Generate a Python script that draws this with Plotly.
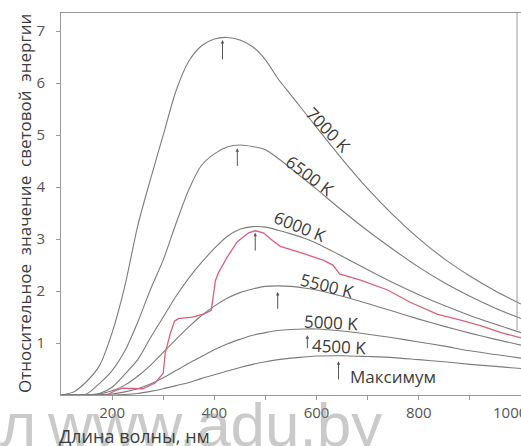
import plotly.graph_objects as go

# ---------------- data ----------------
wavelength_nm = [100, 125, 150, 175, 200, 225, 250, 275, 300, 325, 350, 375, 400, 425, 450, 475, 500, 525, 550, 575, 600,
                 650, 700, 750, 800, 850, 900, 950, 1000]

energy_7000 = [0, 0.06, 0.26, 0.56, 1.20, 2.10, 3.25, 4.15, 5.00, 5.85, 6.42, 6.72, 6.85, 6.88, 6.83, 6.70, 6.45, 6.08, 5.77, 5.46, 5.15,
               4.54, 3.97, 3.46, 3.01, 2.62, 2.29, 2.00, 1.75]
energy_6500 = [0, 0, 0.02, 0.22, 0.47, 0.85, 1.40, 2.03, 2.60, 3.30, 3.95, 4.42, 4.64, 4.77, 4.81, 4.78, 4.72, 4.55, 4.36, 4.16, 3.96,
               3.55, 3.16, 2.80, 2.46, 2.16, 1.90, 1.67, 1.47]
energy_6000 = [0, 0, 0, 0.03, 0.15, 0.40, 0.68, 1.10, 1.50, 1.90, 2.25, 2.55, 2.82, 3.05, 3.19, 3.24, 3.23, 3.17, 3.10, 3.02, 2.92,
               2.67, 2.41, 2.16, 1.93, 1.72, 1.53, 1.36, 1.20]
energy_5500 = [0, 0, 0, 0.02, 0.08, 0.19, 0.36, 0.57, 0.82, 1.07, 1.31, 1.53, 1.71, 1.86, 1.97, 2.04, 2.09, 2.10, 2.09, 2.06, 2.02,
               1.90, 1.76, 1.61, 1.46, 1.32, 1.19, 1.07, 0.96]
energy_5000 = [0, 0, 0, 0.01, 0.02, 0.06, 0.12, 0.21, 0.33, 0.47, 0.61, 0.74, 0.87, 0.98, 1.07, 1.15, 1.20, 1.24, 1.26, 1.27, 1.27,
               1.23, 1.17, 1.10, 1.02, 0.94, 0.85, 0.78, 0.71]
energy_4500 = [0, 0, 0, 0, 0, 0.01, 0.03, 0.07, 0.12, 0.18, 0.24, 0.32, 0.39, 0.46, 0.53, 0.59, 0.64, 0.68, 0.71, 0.73, 0.75,
               0.755, 0.74, 0.72, 0.68, 0.64, 0.59, 0.55, 0.51]

temperature_labels = ["7000 K", "6500 K", "6000 K", "5500 K", "5000 K", "4500 K"]

sun_nm = [190, 205, 220, 240, 260, 284, 300, 304, 314, 322, 330, 357, 380, 394, 402, 408, 425, 445, 467,
          480, 496, 510, 529, 569, 614, 632, 645, 686, 739, 784, 837, 882, 922, 961, 1000]
sun_energy = [0, 0.08, 0.13, 0.12, 0.12, 0.23, 0.42, 0.81, 1.19, 1.42, 1.47, 1.50, 1.56, 1.63, 2.20, 2.35, 2.65, 2.95, 3.12,
              3.16, 3.12, 3.00, 2.86, 2.74, 2.59, 2.50, 2.33, 2.21, 2.02, 1.78, 1.55, 1.44, 1.33, 1.20, 1.10]

peak_nm = [416, 445, 480, 524, 582, 643]
peak_arrow_base = [6.43, 4.38, 2.75, 1.63, 0.87, 0.27]
peak_arrow_tip = [6.83, 4.75, 3.12, 1.98, 1.15, 0.65]

x_tick_vals = [200, 300, 400, 500, 600, 700, 800, 900, 1000]
x_tick_text = ["200", "", "400", "", "600", "", "800", "", ""]
x_last_label = "1000"
y_tick_vals = [1, 2, 3, 4, 5, 6, 7]

x_title = "Длина волны, нм"
y_title = "Относительное  значение  световой  энергии"
max_label = "Максимум"

# ---------------- figure ----------------
W, H = 521, 446
ML, MR, MT, MB = 61, 0, 13, 51
PW, PH = W - ML - MR, H - MT - MB

curve_color = "#7c7c7c"
text_color = "#3c3c3c"
font_family = "Open Sans, Noto Sans, sans-serif"

fig = go.Figure()
for vals in [energy_7000, energy_6500, energy_6000, energy_5500, energy_5000, energy_4500]:
    fig.add_trace(go.Scatter(x=wavelength_nm, y=vals, mode="lines",
                             line=dict(color=curve_color, width=1.1, shape="spline", smoothing=0.8),
                             hoverinfo="skip", showlegend=False))

fig.add_trace(go.Scatter(x=sun_nm, y=sun_energy, mode="lines",
                         line=dict(color="#d9607c", width=1.3),
                         hoverinfo="skip", showlegend=False))

annotations = []

# watermark (drawn first so other text sits on top)
wm_font = dict(family="Liberation Sans, Arial, sans-serif", size=62, color="rgba(150,150,150,0.5)")
annotations.append(dict(text="л", xref="paper", yref="paper", x=(-2 - ML) / PW, y=(395 - 424) / PH,
                        xanchor="left", yanchor="middle", showarrow=False, font=wm_font))
annotations.append(dict(text="www.adu.by", xref="paper", yref="paper", x=(45 - ML) / PW, y=(395 - 424) / PH,
                        xanchor="left", yanchor="middle", showarrow=False, font=wm_font))

# peak arrows
for nm, y0, y1 in zip(peak_nm, peak_arrow_base, peak_arrow_tip):
    annotations.append(dict(x=nm, y=y1, ax=nm, ay=y0, xref="x", yref="y", axref="x", ayref="y",
                            text="", showarrow=True, arrowhead=2, arrowsize=0.7, arrowwidth=1,
                            arrowcolor="#555555"))

# curve labels
label_pos = [(622, 5.10, 46), (587, 4.23, 37), (568, 3.25, 22), (620, 2.10, 14), (628, 1.39, 3), (644, 0.94, 3)]
for txt, (lx, ly, ang) in zip(temperature_labels, label_pos):
    annotations.append(dict(text=txt, x=lx, y=ly, xref="x", yref="y", showarrow=False, textangle=ang,
                            font=dict(family=font_family, size=17, color=text_color)))
annotations.append(dict(text=max_label, x=750, y=0.36, xref="x", yref="y", showarrow=False,
                        font=dict(family=font_family, size=17, color=text_color)))

# last x tick label (set slightly inside the right edge, as in the original)
annotations.append(dict(text=x_last_label, xref="paper", yref="paper", x=(491 - ML) / PW, y=(395 - 412) / PH,
                        xanchor="left", yanchor="middle", showarrow=False,
                        font=dict(family=font_family, size=15, color="#555555")))

# axis titles
annotations.append(dict(text=x_title, xref="paper", yref="paper", x=(57 - ML) / PW, y=(395 - 436) / PH,
                        xanchor="left", yanchor="middle", showarrow=False,
                        font=dict(family=font_family, size=18, color=text_color)))
annotations.append(dict(text=y_title, xref="paper", yref="paper", x=(24 - ML) / PW, y=0.5,
                        xanchor="center", yanchor="middle", showarrow=False, textangle=-90,
                        font=dict(family=font_family, size=17, color=text_color)))

fig.update_layout(
    width=W, height=H,
    margin=dict(l=ML, r=MR, t=MT, b=MB, pad=0),
    paper_bgcolor="white", plot_bgcolor="white",
    showlegend=False,
    annotations=annotations,
    shapes=[dict(type="line", xref="paper", yref="paper", x0=(517 - ML) / PW, x1=(517 - ML) / PW,
                 y0=(395 - 330) / PH, y1=1, line=dict(color="#9a9a9a", width=1))],
)

fig.update_xaxes(range=[100, 1000], showgrid=False, zeroline=False,
                 showline=True, linecolor="#9a9a9a", linewidth=1, mirror=True,
                 ticks="outside", ticklen=4, tickcolor="#9a9a9a",
                 tickvals=x_tick_vals, ticktext=x_tick_text, ticklabelstandoff=0,
                 tickfont=dict(family=font_family, size=15, color="#555555"))
fig.update_yaxes(range=[0, 7.35], showgrid=False, zeroline=False,
                 showline=True, linecolor="#9a9a9a", linewidth=1, mirror=True,
                 ticks="outside", ticklen=4, tickcolor="#9a9a9a",
                 tickvals=y_tick_vals, ticklabelstandoff=8,
                 tickfont=dict(family=font_family, size=15, color="#555555"))

fig.write_html("out.html")
